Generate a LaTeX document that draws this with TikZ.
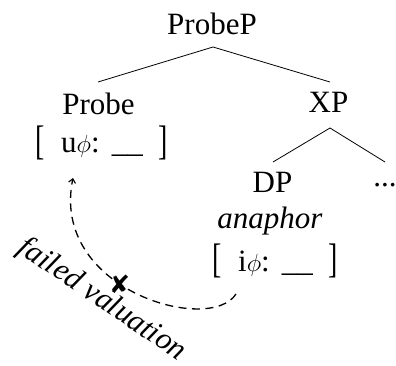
\documentclass[tikz,border=0pt]{standalone}
\usepackage{fontspec}
\setmainfont{Liberation Serif}
\newfontfamily\symfont{DejaVu Sans}
\usetikzlibrary{calc,arrows.meta}
\newcommand{\lbrk}{\raisebox{-1.5pt}{\scalebox{0.9}[1.33]{[}}}
\newcommand{\rbrk}{\raisebox{-1.5pt}{\scalebox{0.9}[1.33]{]}}}
\tikzset{
  lbl/.style={inner sep=0pt, anchor=base, font=\fontsize{31}{36}\selectfont},
  branch/.style={line width=0.8pt},
  valarrow/.style={-{Straight Barb[length=4pt,width=7pt,line width=1.1pt]}, line width=1.3pt, dash pattern=on 8pt off 5.5pt},
  failmark/.style={inner sep=0pt, font=\symfont\fontsize{25}{28}\selectfont}
}
\begin{document}
\begin{tikzpicture}[x=1pt,y=-1pt]
\useasboundingbox (0,0) rectangle (396,366);
\node[lbl] (probep) at (212,35) {ProbeP};
\node[lbl] (probe) at (98.5,115) {Probe};
\node[lbl] (xp) at (328.5,113) {XP};
\node[lbl] (ubr) at (102,153) {\lbrk\hspace{16pt}u$\phi$:\hspace{12pt}\_\_\hspace{16pt}\rbrk};
\node[lbl] (dp) at (272.5,193) {DP};
\node[lbl] (dots) at (385,186) {...};
\node[lbl,font=\fontsize{31}{36}\selectfont\itshape] (ana) at (270,228) {anaphor};
\node[lbl] (ibr) at (275.5,271) {\lbrk\hspace{16pt}i$\phi$:\hspace{12pt}\_\_\hspace{16pt}\rbrk};
\draw[branch] ($(probep.base)+(1,12)$) -- ($(probe.base)+(-0.5,-33)$);
\draw[branch] ($(probep.base)+(1,12)$) -- ($(xp.base)+(1.5,-31)$);
\draw[branch] ($(xp.base)+(1.5,15)$) -- ($(dp.base)+(0.5,-31)$);
\draw[branch] ($(xp.base)+(1.5,15)$) -- ($(dots.base)+(0,-24)$);
\coordinate (vs) at ($(ibr.base)+(-39.5,23)$);
\coordinate (ve) at ($(ubr.base)+(-29,25)$);
\draw[valarrow] (vs) .. controls (210,335) and (50,290) .. (ve)
  node[failmark, pos=0.57] (x) {✘};
\node[lbl,font=\fontsize{31}{36}\selectfont\itshape, rotate=-34, anchor=center] (fv) at (102,300) {failed valuation};
\end{tikzpicture}
\end{document}
